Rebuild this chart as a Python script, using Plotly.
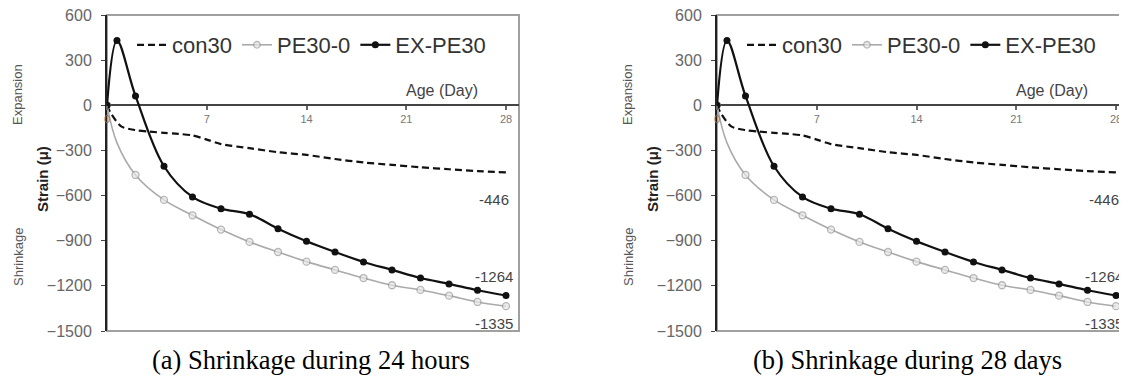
import plotly.graph_objects as go

# ---------------- data ----------------
days_ex = [0, 0.7, 2, 4, 6, 8, 10, 12, 14, 16, 18, 20, 22, 24, 26, 28]
ex_pe30 = [0, 430, 62, -405, -609, -687, -724, -820, -904, -975, -1041, -1094, -1148, -1187, -1229, -1264]

days_pe = [0, 0.7, 2, 4, 6, 8, 10, 12, 14, 16, 18, 20, 22, 24, 26, 28]
pe30_0 = [0, -250, -463, -629, -731, -826, -908, -975, -1039, -1094, -1148, -1196, -1227, -1265, -1307, -1335]

days_con = [0, 0.25, 1, 2, 3, 4, 5, 6, 7, 8, 10, 12, 14, 16, 18, 20, 22, 24, 26, 28]
con30 = [0, -50, -140, -165, -175, -183, -190, -200, -228, -258, -285, -312, -330, -357, -380, -396, -412, -425, -437, -446]

x_ticks = [0, 7, 14, 21, 28]
y_ticks = [-1500, -1200, -900, -600, -300, 0, 300, 600]
captions = ["(a) Shrinkage during 24 hours", "(b) Shrinkage during 28 days"]

# ---------------- layout helpers ----------------
W, H = 1127, 378
PAGE_OFF = 8          # default body margin of the html page
FONT = "Liberation Sans, Arial, sans-serif"
PX_PER_DAY = 14.25
Y_MIN, Y_MAX = -1500, 600
TOP_PX, BOT_PX = 15, 331   # screen pixels


def px_x(sx):
    return (sx - PAGE_OFF) / W


def px_y(sy):
    return 1 - (sy - PAGE_OFF) / H


ydom = [px_y(BOT_PX), px_y(TOP_PX)]
zero_pos = ydom[0] + (0 - Y_MIN) / (Y_MAX - Y_MIN) * (ydom[1] - ydom[0])

panels = [
    dict(left=107, right=519, x="x", y="y", xa="xaxis", ya="yaxis", legend="legend"),
    dict(left=717, right=1129, x="x2", y="y2", xa="xaxis2", ya="yaxis2", legend="legend2"),
]

fig = go.Figure()
pe_sizes = [7 if (d == int(d) and int(d) % 2 == 0) else 0 for d in days_pe]


def paper_text(sx, sy, text, size, color, angle=0, family=FONT):
    fig.add_annotation(x=px_x(sx), y=px_y(sy), xref="paper", yref="paper",
                       xanchor="center", yanchor="middle", text=text,
                       showarrow=False, textangle=angle,
                       font=dict(family=family, size=size, color=color))


for i, p in enumerate(panels):
    fig.add_trace(go.Scatter(
        x=days_con, y=con30, name="con30", mode="lines",
        line=dict(color="#111111", width=2.2, dash="7px,4px", shape="spline", smoothing=0.8),
        xaxis=p["x"], yaxis=p["y"], legend=p["legend"]))
    fig.add_trace(go.Scatter(
        x=days_pe, y=pe30_0, name="PE30-0", mode="lines+markers",
        line=dict(color="#aaaaaa", width=1.6, shape="spline", smoothing=1.0),
        marker=dict(size=pe_sizes, color="#e6e6e6", line=dict(color="#999999", width=1.3)),
        xaxis=p["x"], yaxis=p["y"], legend=p["legend"]))
    fig.add_trace(go.Scatter(
        x=days_ex, y=ex_pe30, name="EX-PE30", mode="lines+markers",
        line=dict(color="#111111", width=2.2, shape="spline", smoothing=1.0),
        marker=dict(size=7, color="#111111"),
        xaxis=p["x"], yaxis=p["y"], legend=p["legend"]))

    xmax = (p["right"] - p["left"]) / PX_PER_DAY
    fig.update_layout(**{
        p["xa"]: dict(
            domain=[px_x(p["left"]), min(1.0, px_x(p["right"]))], range=[0, xmax],
            anchor="free", position=zero_pos, showline=False, showgrid=False,
            zeroline=False, tickvals=x_ticks, ticks="outside", ticklen=4,
            tickcolor="#666666", tickwidth=1.5, automargin=False,
            ticklabeloverflow="allow",
            tickfont=dict(family=FONT, size=11, color="#777777")),
        p["ya"]: dict(
            domain=ydom, range=[Y_MIN, Y_MAX], anchor=p["x"], tickvals=y_ticks,
            showline=True, linecolor="#222222", linewidth=2, showgrid=False,
            zeroline=True, zerolinecolor="#444444", zerolinewidth=2,
            ticks="outside", ticklen=4, tickcolor="#444444",
            ticklabelstandoff=6, automargin=False, ticklabeloverflow="allow",
            tickfont=dict(family=FONT, size=16, color="#666666")),
        p["legend"]: dict(
            orientation="h", x=px_x(p["left"] + 25), y=px_y(24),
            xanchor="left", yanchor="top", bgcolor="rgba(0,0,0,0)",
            font=dict(family=FONT, size=22, color="#333333"),
            itemwidth=30, tracegroupgap=0),
    })

    # plot area border (gray)
    fig.add_shape(type="rect", xref=f"{p['x']} domain", yref=f"{p['y']} domain",
                  x0=0, x1=1, y0=0, y1=1,
                  line=dict(color="#a0a0a0", width=2), layer="below")

    # end-of-series value labels
    fig.add_annotation(x=days_con[-1], y=con30[-1], xref=p["x"], yref=p["y"],
                       text=str(con30[-1]), showarrow=False, xanchor="right",
                       yanchor="middle", xshift=5, yshift=-27,
                       font=dict(family=FONT, size=15, color="#444444"))
    fig.add_annotation(x=days_ex[-1], y=ex_pe30[-1], xref=p["x"], yref=p["y"],
                       text=str(ex_pe30[-1]), showarrow=False, xanchor="right",
                       yanchor="middle", xshift=9, yshift=19,
                       font=dict(family=FONT, size=15, color="#444444"))
    fig.add_annotation(x=days_pe[-1], y=pe30_0[-1], xref=p["x"], yref=p["y"],
                       text=str(pe30_0[-1]), showarrow=False, xanchor="right",
                       yanchor="middle", xshift=9, yshift=-17,
                       font=dict(family=FONT, size=15, color="#444444"))

    off = p["left"] - 107
    paper_text(442 + off, 90, "Age (Day)", 16, "#444444")
    paper_text(43 + off, 179, "<b>Strain (μ)</b>", 15, "#222222", angle=-90)
    paper_text(18 + off, 95, "Expansion", 13, "#555555", angle=-90)
    paper_text(18 + off, 257, "Shrinkage", 13, "#555555", angle=-90)
    paper_text((311 if i == 0 else 907), 360, captions[i], 26.5, "#000000",
               family="Liberation Serif, Times New Roman, serif")

fig.update_layout(
    width=W, height=H, margin=dict(l=0, r=0, t=0, b=0, autoexpand=False),
    paper_bgcolor="white", plot_bgcolor="white",
    font=dict(family=FONT),
)

fig.write_html("out.html")
